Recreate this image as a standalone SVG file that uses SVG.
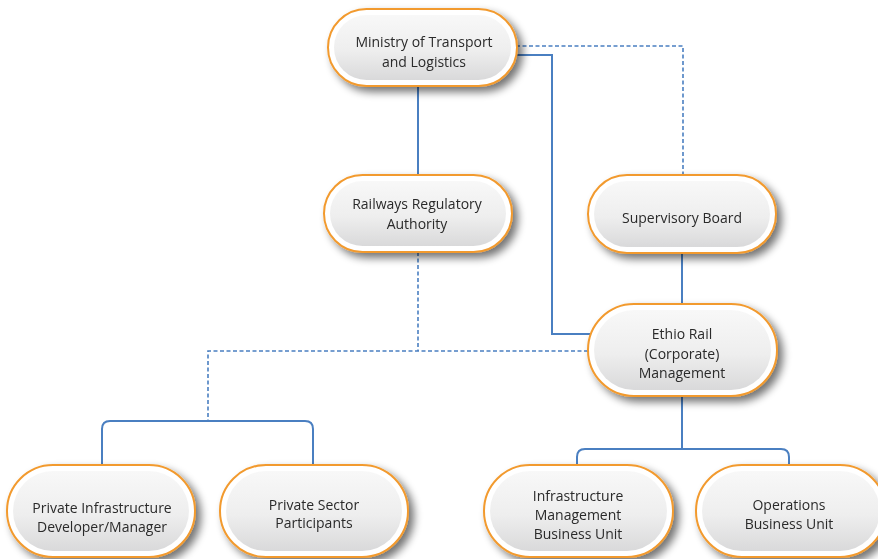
<svg xmlns="http://www.w3.org/2000/svg" width="878" height="559" viewBox="0 0 878 559">
<defs>
  <linearGradient id="g" x1="0" y1="0" x2="0" y2="1">
    <stop offset="0" stop-color="#f8f8f8"/>
    <stop offset="0.55" stop-color="#eeeeee"/>
    <stop offset="1" stop-color="#d9d9da"/>
  </linearGradient>
  <filter id="sh" x="-20%" y="-20%" width="150%" height="160%">
    <feGaussianBlur in="SourceAlpha" stdDeviation="4"/>
    <feOffset dx="5" dy="5" result="b"/>
    <feComponentTransfer><feFuncA type="linear" slope="0.55"/></feComponentTransfer>
    <feMerge><feMergeNode/><feMergeNode in="SourceGraphic"/></feMerge>
  </filter>
</defs>
<style>
  .outer{fill:#ffffff;stroke:#f29a2e;stroke-width:2}
  .inner{fill:url(#g)}
  .t{font-family:"Open Sans","Noto Sans",sans-serif;font-size:14px;fill:#2a2a2a;text-anchor:middle;dominant-baseline:central}
  .c{fill:none;stroke:#4a7fc1;stroke-width:2}
  .d{fill:none;stroke:#4a7fc1;stroke-width:1.6;stroke-dasharray:4 2.5}
</style>
<g id="connectors">
  <path class="c" d="M418 86V175"/>
  <path class="c" d="M516 55H552V334H592"/>
  <path class="d" d="M516 46H683V175"/>
  <path class="c" d="M682 253V304"/>
  <path class="d" d="M418 252V351"/>
  <path class="d" d="M588 351H208V421"/>
  <path class="c" d="M102 465V429Q102 421 110 421H305Q313 421 313 429V465"/>
  <path class="c" d="M682 396V449"/>
  <path class="c" d="M577 465V457Q577 449 585 449H781Q789 449 789 457V465"/>
</g>
<g id="ministry" filter="url(#sh)">
  <rect class="outer" x="328" y="9" width="189" height="77" rx="38.5"/>
  <rect class="inner" x="334" y="15" width="177" height="65" rx="32.5"/>
  <text class="t" x="424" y="41">Ministry of Transport</text>
  <text class="t" x="424" y="61">and Logistics</text>
</g>
<g id="rra" filter="url(#sh)">
  <rect class="outer" x="324" y="175" width="188" height="77" rx="38.5"/>
  <rect class="inner" x="330" y="181" width="176" height="65" rx="32.5"/>
  <text class="t" x="417" y="203">Railways Regulatory</text>
  <text class="t" x="417" y="223">Authority</text>
</g>
<g id="supervisory" filter="url(#sh)">
  <rect class="outer" x="588" y="175" width="188" height="78" rx="39"/>
  <rect class="inner" x="594" y="181" width="176" height="66" rx="33"/>
  <text class="t" x="682" y="217">Supervisory Board</text>
</g>
<g id="ethio" filter="url(#sh)">
  <rect class="outer" x="588" y="304" width="189" height="92" rx="46"/>
  <rect class="inner" x="594" y="310" width="177" height="80" rx="40"/>
  <text class="t" x="682" y="333">Ethio Rail</text>
  <text class="t" x="682" y="353">(Corporate)</text>
  <text class="t" x="682" y="372">Management</text>
</g>
<g id="pidm" filter="url(#sh)">
  <rect class="outer" x="7" y="465" width="188" height="92" rx="46"/>
  <rect class="inner" x="13" y="471" width="176" height="80" rx="40"/>
  <text class="t" x="102" y="507">Private Infrastructure</text>
  <text class="t" x="102" y="526">Developer/Manager</text>
</g>
<g id="psp" filter="url(#sh)">
  <rect class="outer" x="220" y="465" width="188" height="92" rx="46"/>
  <rect class="inner" x="226" y="471" width="176" height="80" rx="40"/>
  <text class="t" x="314" y="504">Private Sector</text>
  <text class="t" x="314" y="522">Participants</text>
</g>
<g id="imbu" filter="url(#sh)">
  <rect class="outer" x="484" y="465" width="189" height="92" rx="46"/>
  <rect class="inner" x="490" y="471" width="177" height="80" rx="40"/>
  <text class="t" x="578" y="495">Infrastructure</text>
  <text class="t" x="578" y="514">Management</text>
  <text class="t" x="578" y="533">Business Unit</text>
</g>
<g id="obu" filter="url(#sh)">
  <rect class="outer" x="696" y="465" width="190" height="92" rx="46"/>
  <rect class="inner" x="702" y="471" width="178" height="80" rx="40"/>
  <text class="t" x="789" y="504">Operations</text>
  <text class="t" x="789" y="523">Business Unit</text>
</g>
</svg>
